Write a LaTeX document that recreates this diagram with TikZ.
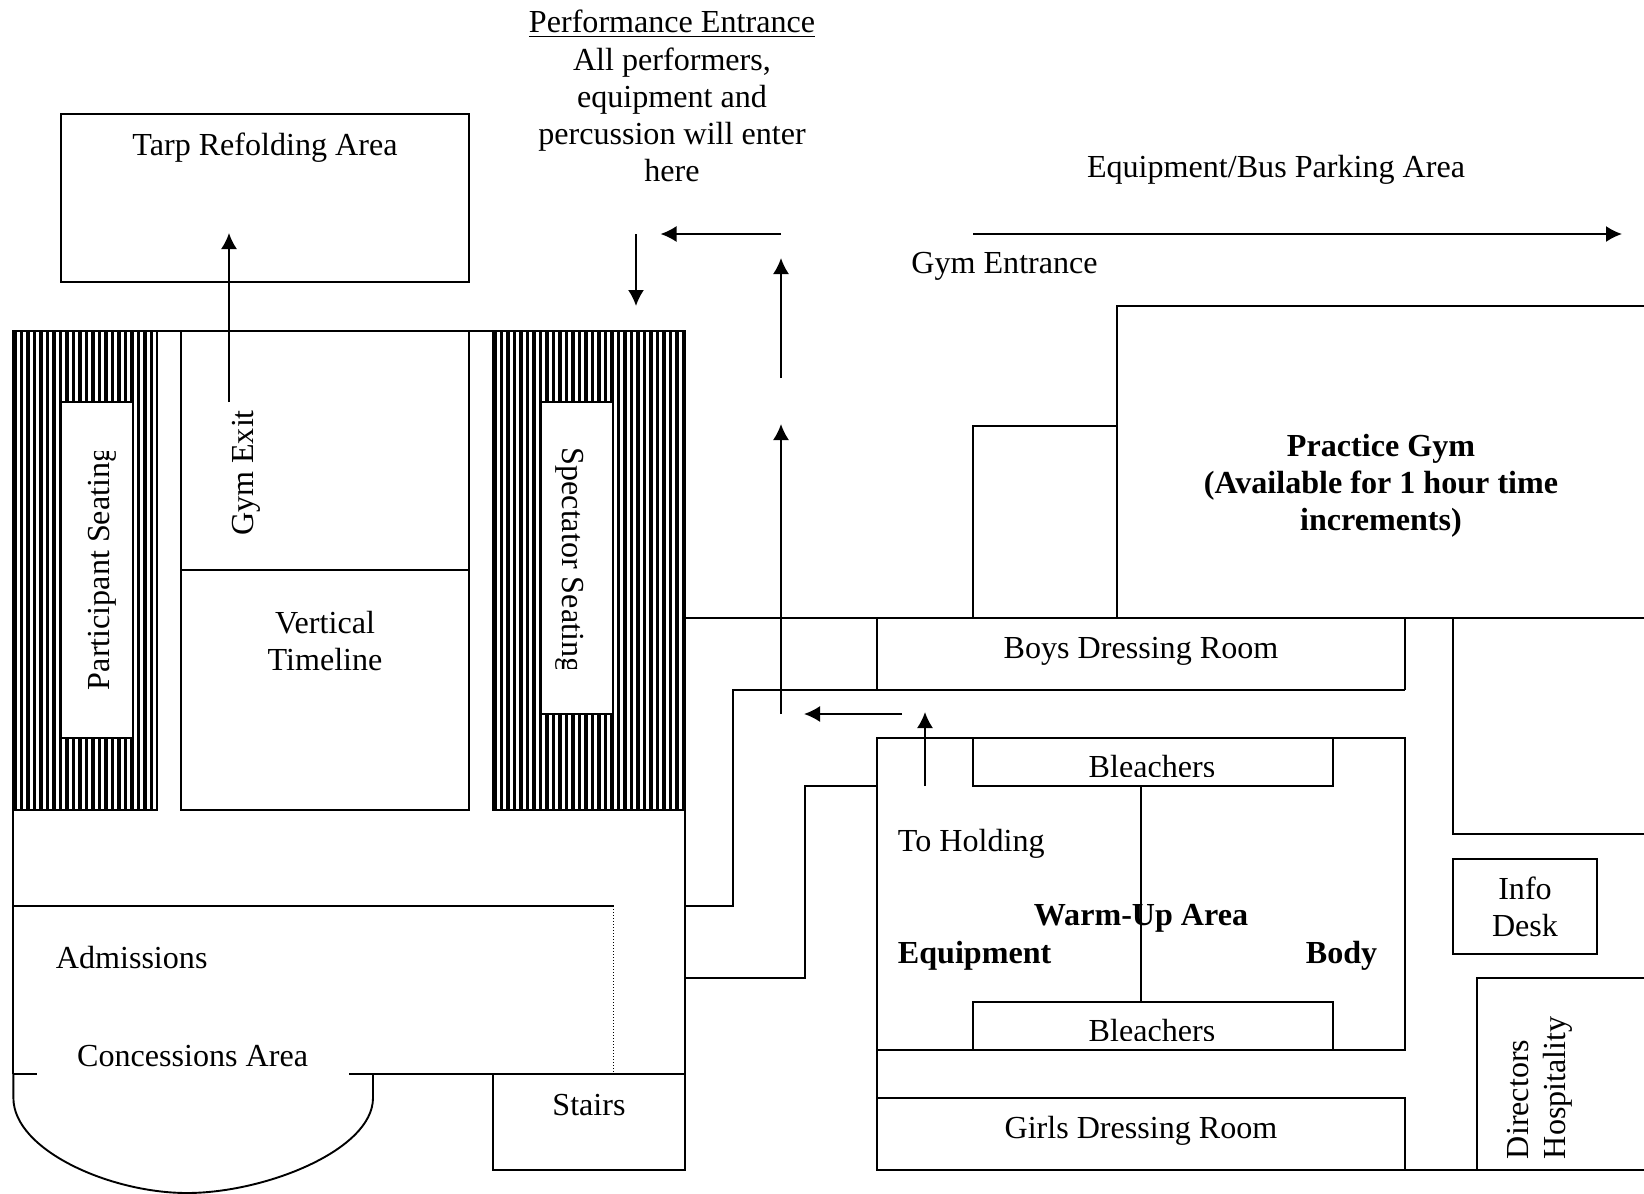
\documentclass[tikz,border=0pt]{standalone}
\usepackage{fontspec}
\setmainfont{Liberation Serif}
\usepackage{tikz}
\usetikzlibrary{arrows.meta}
\tikzset{every picture/.style={line width=0.95pt}}

\begin{document}
\begin{tikzpicture}[x=0.5pt,y=-0.5pt,
    room/.style={draw,fill=white},
    flow/.style={-{Latex[length=8pt,width=8pt]}},
    stripe/.style={line width=1.55pt},
    lbl/.style={inner sep=0pt,anchor=base,font=\fontsize{16.05}{18.6}\selectfont,align=center},
    boldlbl/.style={lbl,font=\fontsize{16.05}{18.6}\selectfont\bfseries}]
    \useasboundingbox (0,0) rectangle (1644,1194);

    % seating stripes
    \foreach \x in {15,21.5,...,155} \draw[stripe] (\x,331) -- (\x,810);
    \foreach \x in {495,501.5,...,683} \draw[stripe] (\x,331) -- (\x,810);
    \draw[stripe] (683.5,331) -- (683.5,810);
    \draw (13.4,331) rectangle (157,810);
    \draw (493,331) rectangle (685,810);
    \draw[room] (61,402) rectangle (133,738);
    \draw[room] (541,402) rectangle (612.5,714);

    % main gym
    \draw (157,331) -- (493,331);
    \draw (181,331) rectangle (469,810);
    \draw (181,570) -- (469,570);
    \draw (13.4,810) -- (13.4,1074);
    \draw (685,810) -- (685,1170);
    \draw (13.4,906) -- (614,906);
    \draw[densely dotted,line width=0.5pt] (613,906) -- (613,1074);
    \draw (13.4,1074) -- (37,1074);
    \draw (349,1074) -- (685,1074);
    \draw (13.4,1074) -- (13.4,1098) .. controls (13.4,1150) and (110,1193) .. (187,1193)
        .. controls (265,1193) and (373,1150) .. (373,1098) -- (373,1074);
    \draw (493,1074) rectangle (685,1170);

    % upper rooms
    \draw (61,114) rectangle (469,282);
    \draw (685,618) -- (1644,618);
    \draw (1117,618) -- (1117,306) -- (1644,306);
    \draw (973,618) -- (973,426) -- (1117,426);
    \draw (877,618) -- (877,690);
    \draw (1405,618) -- (1405,690);
    \draw (685,906) -- (733,906) -- (733,690) -- (1405,690);
    \draw (685,978) -- (805,978) -- (805,786) -- (877,786);

    % warm-up area
    \draw (877,738) rectangle (1405,1050);
    \draw (973,738) rectangle (1333,786);
    \draw (973,1002) rectangle (1333,1050);
    \draw (1141,786) -- (1141,1002);
    \draw (877,1050) -- (877,1170) -- (1644,1170);
    \draw (877,1098) -- (1405,1098) -- (1405,1170);

    % right side
    \draw (1644,834) -- (1453,834) -- (1453,618);
    \draw (1453,859) rectangle (1597,954);
    \draw (1644,978) -- (1477,978) -- (1477,1170);

    % route arrows
    \coordinate (exitS) at (229,402);
    \coordinate (exitE) at (229,233);
    \coordinate (perfA) at (636,234);
    \coordinate (perfB) at (636,306);
    \coordinate (turnA) at (781,234);
    \coordinate (turnB) at (660.5,234);
    \coordinate (upA) at (781,378);
    \coordinate (upB) at (781,258);
    \coordinate (upC) at (781,714);
    \coordinate (upD) at (781,424);
    \coordinate (busA) at (973,234);
    \coordinate (busB) at (1622,234);
    \coordinate (holdA) at (902,714);
    \coordinate (holdB) at (804,714);
    \coordinate (holdC) at (925,786);
    \coordinate (holdD) at (925,712);
    \draw[flow] (exitS) -- (exitE);
    \draw[flow] (perfA) -- (perfB);
    \draw[flow] (turnA) -- (turnB);
    \draw[flow] (upA) -- (upB);
    \draw[flow] (upC) -- (upD);
    \draw[flow] (busA) -- (busB);
    \draw[flow] (holdA) -- (holdB);
    \draw[flow] (holdC) -- (holdD);

    % labels
    \node[lbl,anchor=center] (perf) at (672,96.2) {\underline{Performance Entrance}\\All performers,\\equipment and\\percussion will enter\\here};
    \node[lbl] (tarp) at (265,155) {Tarp Refolding Area};
    \node[lbl] (bus) at (1276,177) {Equipment/Bus Parking Area};
    \node[lbl] (gymin) at (1004.5,273.6) {Gym Entrance};
    \node[boldlbl,anchor=center] (practice) at (1381,486) {Practice Gym\\(Available for 1 hour time\\increments)};
    \node[lbl] (boys) at (1141,658.5) {Boys Dressing Room};
    \node[lbl,anchor=base west] (hold) at (897,851) {To Holding};
    \node[boldlbl] (warm) at (1141,925) {Warm-Up Area};
    \node[boldlbl,anchor=base west] (equip) at (897,963) {Equipment};
    \node[boldlbl] (body) at (1341.6,963) {Body};
    \node[lbl,anchor=center] (info) at (1525,907) {Info\\Desk};
    \node[lbl,rotate=90,anchor=north west,align=left] (dirs) at (1506,1160) {Directors\\Hospitality};
    \node[lbl] (girls) at (1141,1138) {Girls Dressing Room};
    \node[lbl] (adm) at (131.7,968) {Admissions};
    \node[lbl] (conc) at (192.6,1066.5) {Concessions Area};
    \node[lbl] (stairs) at (589,1115) {Stairs};
    \node[lbl,anchor=center] (vert) at (325,641) {Vertical\\Timeline};
    \node[lbl,rotate=90] (exit) at (253.6,473) {Gym Exit};
    \begin{scope}
        \clip (61,451) rectangle (133,738);
        \node[lbl,rotate=90,anchor=base west] (part) at (109,691) {Participant Seating};
    \end{scope}
    \begin{scope}
        \clip (541,402) rectangle (612.5,668);
        \node[lbl,rotate=-90,anchor=base west] (spec) at (562,446.7) {Spectator Seating};
    \end{scope}
    \begin{scope}
        \clip (973,738) rectangle (1333,776.5);
        \node[lbl] (bleachA) at (1152,777) {Bleachers};
    \end{scope}
    \begin{scope}
        \clip (973,1002) rectangle (1333,1040.5);
        \node[lbl] (bleachB) at (1152,1041) {Bleachers};
    \end{scope}
\end{tikzpicture}
\end{document}
